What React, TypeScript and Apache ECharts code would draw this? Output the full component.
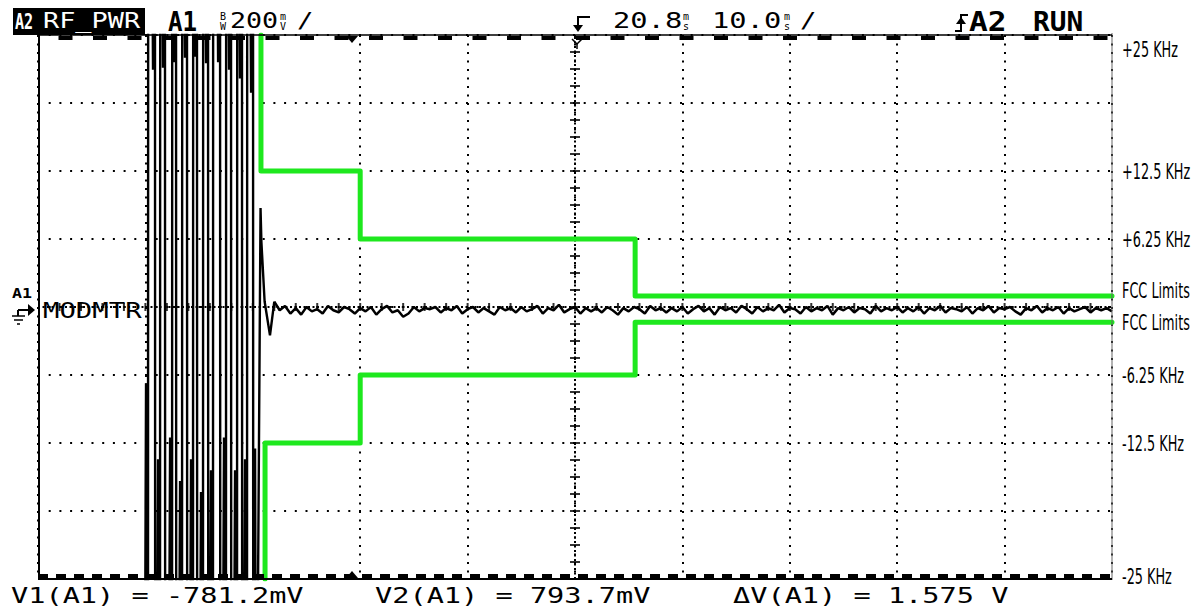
import React, { useEffect, useRef } from 'react';
import * as echarts from 'echarts';

// ---- axes ----
const timeMin = 0;
const timeMax = 100; // ms (10 ms/div)
const timeDiv = 10;
const freqMin = -25; // kHz
const freqMax = 25;
const freqDiv = 6.25;

const yTickValues = [25, 12.5, 6.25, -6.25, -12.5, -25];
const yTickTexts = ['+25 KHz', '+12.5 KHz', '+6.25 KHz', '-6.25 KHz', '-12.5 KHz', '-25 KHz'];

// ---- modulation trace ----
// clipped burst: time of each clipped extreme (ms) and the level (kHz) where its heavy bar ends
const peakT = [10.24, 10.89, 11.36, 11.82, 12.48, 12.85, 13.41, 13.87, 14.43, 14.8, 15.36, 15.83, 16.29, 16.95, 17.5, 17.97, 18.53, 18.99, 19.46, 20.02, 20.39];
const peakShoulder = [-7, 21.8, -14, 22.0, -12, 22.5, -16, 22.9, -14, 23.0, -17, 22.4, -15, 22.5, -12, 21.8, -15, 21.0, -14, 19.7, -13];
const clipLevel = 40; // beyond screen, kHz
// ringing as the transmitter settles
const ringT = [20.72, 20.8, 21.1, 21.6, 22.0];
const ringV = [9.1, 6.0, 0.5, -2.6, 0.5];
// residual noise
const noiseStartT = 22.5;
const noiseStepT = 0.5;
const noiseV = [
  -0.3, 0.1, -0.6, -0.1, -0.7, 0.0, -0.4, -0.2, -0.6, 0.1, -0.3, -0.5, 0.0, -0.2, -0.6,
  -0.1, -0.4, 0.0, -0.7, -0.2, 0.1, -0.5, -0.3, -0.9, -0.6, 0.0, -0.4, -0.1, -0.2, 0.0,
  -0.5, -0.1, -0.3, 0.1, -0.6, -0.2, 0.0, -0.5, -0.1, -0.4, -0.7, 0.0, -0.3, -0.1, -0.5,
  0.0, -0.4, -0.2, 0.1, -0.6, -0.1, -0.3, 0.2, -0.5, -0.2, 0.0, -0.6, -0.1, -0.4, -0.1,
  -0.5, 0.0, -0.3, -0.7, -0.1, -0.4, 0.0, -0.2, -0.6, 0.1, -0.3, -0.1, -0.5, -0.1, -0.4,
  0.0, -0.6, -0.2, 0.1, -0.4, -0.1, -0.7, 0.0, -0.3, -0.1, -0.5, 0.1, -0.2, -0.6, 0.0,
  -0.4, -0.1, -0.3, 0.2, -0.5, -0.1, -0.2, -0.6, 0.0, -0.4, -0.1, -0.3, 0.1, -0.7, -0.1,
  -0.3, 0.0, -0.5, -0.1, -0.2, -0.6, 0.1, -0.4, -0.1, -0.3, 0.0, -0.5, -0.1, -0.4, 0.0,
  -0.6, -0.1, -0.3, 0.1, -0.5, -0.1, -0.2, -0.4, 0.0, -0.6, -0.1, -0.3, 0.1, -0.5, -0.1,
  -0.2, 0.0, -0.4, -0.7, -0.1, -0.3, 0.1, -0.5, -0.1, -0.3, 0.0, -0.6, -0.1, -0.4, -0.2,
  0.0, -0.5, -0.1, -0.3, -0.1, -0.4,
];

// ---- FCC limit masks (ms, kHz) ----
const upperLimitT = [20.76, 20.76, 30, 30, 55.6, 55.6, 100];
const upperLimitV = [25, 12.5, 12.5, 6.25, 6.25, 1.0, 1.0];
const lowerLimitT = [21.14, 21.14, 30, 30, 55.6, 55.6, 100];
const lowerLimitV = [-25, -12.5, -12.5, -6.25, -6.25, -1.4, -1.4];
const limitLabel = 'FCC Limits';

// ---- scope texts ----
const channelBox = ['A2', 'RF_PWR'];
const headerScale = ['A1', '200', '/'];
const headerTime = ['20.8', '10.0', '/'];
const headerTrig = ['A2', 'RUN'];
const traceLabel = ['A1', 'MODMTR'];
const readouts = ['V1(A1) = -781.2mV', 'V2(A1) = 793.7mV', '\u0394V(A1) = 1.575 V'];

const SCOPE = '"DejaVu Sans Mono", "Liberation Mono", monospace';
const NARROW = '"DejaVu Sans Condensed", "DejaVu Sans", sans-serif';

const GL = 38, GT = 35, GW = 1074, GH = 544;
const GR = GL + GW, GB = GT + GH;

function txt(x: number, y: number, text: string, size: number, sx = 1, bold = false, fill = '#000') {
  return {
    type: 'text', x, y, scaleX: sx, z: 120,
    style: {
      text, fill,
      font: `${bold ? 'bold ' : ''}${size}px ${SCOPE}`,
      textAlign: 'left', textVerticalAlign: 'middle', align: 'left', verticalAlign: 'middle',
    },
  };
}
function narrowTxt(x: number, y: number, text: string) {
  return {
    type: 'text', x, y, scaleX: 0.68, z: 120,
    style: {
      text, fill: '#000', font: `21px ${NARROW}`,
      textAlign: 'left', textVerticalAlign: 'middle', align: 'left', verticalAlign: 'middle',
    },
  };
}
function ln(x1: number, y1: number, x2: number, y2: number, w: number, color = '#000', dash?: number[], dashOffset = 0) {
  return {
    type: 'line', z: 110, silent: true,
    shape: { x1, y1, x2, y2 },
    style: { stroke: color, lineWidth: w, lineDash: dash, lineDashOffset: dashOffset },
  };
}

export default function App() {
  const ref = useRef<HTMLDivElement>(null);
  useEffect(() => {
    if (!ref.current) return;
    const chart = echarts.init(ref.current, undefined, { renderer: 'svg' });

    // clipped burst: each extreme is a near-vertical stroke plus its heavy bar
    const burst: number[][] = [];
    peakT.forEach((t, i) => {
      const s = peakShoulder[i];
      const ext = s < 0 ? -clipLevel : clipLevel;
      burst.push([t - 0.3, ext], [t - 0.18, s], [t - 0.1, ext], [t, ext]);
      if (i < peakT.length - 1) burst.push([t + 0.02, -ext]);
    });
    ringT.forEach((t, i) => burst.push([t, ringV[i]]));
    const settled: number[][] = [burst[burst.length - 1]];
    noiseV.forEach((v, i) => settled.push([noiseStartT + i * noiseStepT, v]));
    const upper = upperLimitT.map((t, i) => [t, upperLimitV[i]]);
    const lower = lowerLimitT.map((t, i) => [t, lowerLimitV[i]]);

    // graticule minor ticks on the centre crosshair (4 per vertical div, 5 per horizontal div)
    const vTicks: number[][] = [];
    for (let k = 1; k < 32; k++) vTicks.push([(timeMin + timeMax) / 2, freqMin + k * (freqDiv / 4)]);
    const hTicks: number[][] = [];
    for (let k = 1; k < 50; k++) hTicks.push([timeMin + k * (timeDiv / 5), 0]);

    const graphic: any[] = [
      // frame
      ln(GL + 1, GT, GL + 1, GB, 2),
      ln(GR, GT - 2, GR, GB + 1, 1, '#666'),
      ln(GL, GT, GR, GT, 1.5),
      ln(GL, GT + 3, GR, GT + 3, 4, '#000', [14, 20.5], 14),
      ln(GL, GB, GR, GB, 2),
      ln(GL, GB - 3, GR, GB - 3, 4, '#000', [10, 8]),
      // cursor markers
      { type: 'polygon', z: 115, shape: { points: [[346, GT + 1], [358, GT + 1], [352, GT + 8]] }, style: { fill: '#000' } },
      { type: 'polygon', z: 115, shape: { points: [[346, GB - 1], [358, GB - 1], [352, GB - 8]] }, style: { fill: '#000' } },
      // trigger marker
      { type: 'polyline', z: 115, shape: { points: [[590, 17], [578, 17], [578, 28]] }, style: { stroke: '#000', lineWidth: 2, fill: 'none' } },
      { type: 'polygon', z: 115, shape: { points: [[573, 25], [583, 25], [578, 32]] }, style: { fill: '#000' } },
      { type: 'polyline', z: 115, shape: { points: [[572, 39], [577, 44], [582, 39]] }, style: { stroke: '#000', lineWidth: 1.5, fill: 'none' } },
      ln(577, 44, 577, 49, 1.5),
      // channel box
      { type: 'rect', z: 110, shape: { x: 13, y: 8, width: 132, height: 27 }, style: { fill: '#000' } },
      txt(15, 22, channelBox[0], 21, 0.72, true, '#fff'),
      txt(43, 21, channelBox[1], 21, 1.28, false, '#fff'),
      // scale
      txt(168, 22, headerScale[0], 26, 0.93, true),
      txt(220, 16, 'B', 10), txt(220, 26, 'W', 10),
      txt(230, 21, headerScale[1], 21, 1.27),
      txt(280, 16, 'm', 10), txt(280, 26, 'V', 10),
      txt(297, 21, headerScale[2], 21, 1.3),
      // timebase
      txt(613, 21, headerTime[0], 21, 1.37),
      txt(683, 16, 'm', 10), txt(683, 26, 's', 10),
      txt(712, 21, headerTime[1], 21, 1.37),
      txt(784, 16, 'm', 10), txt(784, 26, 's', 10),
      txt(800, 21, headerTime[2], 21, 1.3),
      // trigger source / run
      { type: 'polyline', z: 115, shape: { points: [[955, 31], [961, 31], [961, 15], [968, 15]] }, style: { stroke: '#000', lineWidth: 2, fill: 'none' } },
      { type: 'polygon', z: 115, shape: { points: [[956, 24], [966, 24], [961, 17]] }, style: { fill: '#000' } },
      txt(969, 22, headerTrig[0], 26, 1.2, true),
      txt(1033, 22, headerTrig[1], 26, 1.07, true),
      // trace label + ground symbol
      txt(12, 293, traceLabel[0], 14, 1.19, true),
      txt(43, 311, traceLabel[1], 21, 1.3),
      ln(18, 310, 30, 310, 2),
      { type: 'polygon', z: 115, shape: { points: [[28, 304], [35, 310], [28, 316]] }, style: { fill: '#000' } },
      ln(18, 310, 18, 316, 2),
      ln(12, 316, 25, 316, 1.5),
      ln(14, 320, 23, 320, 1.5),
      ln(17, 324, 20, 324, 1.5),
      // readouts
      txt(11, 595, readouts[0], 22, 1.3),
      txt(375, 595, readouts[1], 22, 1.3),
      txt(733, 595, readouts[2], 22, 1.3),
    ];

    chart.setOption({
      animation: false,
      backgroundColor: '#fff',
      grid: { left: GL, top: GT, width: GW, height: GH, containLabel: false },
      xAxis: {
        type: 'value', min: timeMin, max: timeMax, interval: timeDiv,
        axisLine: { show: false }, axisTick: { show: false }, axisLabel: { show: false },
        splitLine: { show: true, lineStyle: { color: '#000', width: 2, type: [2, 6.5] } },
      },
      yAxis: {
        type: 'value', min: freqMin, max: freqMax, interval: freqDiv, position: 'right',
        axisLine: { show: false }, axisTick: { show: false }, axisLabel: { show: false },
        splitLine: { show: true, lineStyle: { color: '#000', width: 2, type: [2, 8.7] } },
      },
      graphic,
      series: [
        {
          name: 'graticule-v', type: 'scatter', data: vTicks, symbol: 'rect', symbolSize: [10, 2],
          itemStyle: { color: '#000' }, silent: true, z: 1,
          markLine: {
            silent: true, symbol: ['none', 'none'], label: { show: false },
            lineStyle: { color: '#000', width: 2, type: [2, 2.5] },
            data: [{ xAxis: (timeMin + timeMax) / 2 }, { yAxis: 0 }],
          },
        },
        {
          name: 'graticule-h', type: 'scatter', data: hTicks, symbol: 'rect', symbolSize: [2, 8],
          itemStyle: { color: '#000' }, silent: true, z: 1,
        },
        {
          name: 'MODMTR burst', type: 'line', data: burst, showSymbol: false, clip: true,
          lineStyle: { color: '#000', width: 2.4 }, z: 3, silent: true,
        },
        {
          name: 'MODMTR settled', type: 'line', data: settled, showSymbol: false, clip: true,
          lineStyle: { color: '#000', width: 2.5 }, z: 3, silent: true,
        },
        {
          name: 'upper', type: 'line', data: upper, showSymbol: false, clip: true,
          lineStyle: { color: '#1ee81e', width: 5, join: 'round', cap: 'round' }, z: 5,
        },
        {
          name: 'lower', type: 'line', data: lower, showSymbol: false, clip: true,
          lineStyle: { color: '#1ee81e', width: 5, join: 'round', cap: 'round' }, z: 5,
        },
      ],
    });

    // right-hand scale labels, placed through the chart's own scale
    const labels: any[] = yTickValues.map((v, i) => {
      const p = chart.convertToPixel({ gridIndex: 0 }, [timeMax, v]) as number[];
      const dy = v === freqMax ? 14 : v === freqMin ? -3 : 0;
      return narrowTxt(p[0] + 10, p[1] + dy, yTickTexts[i]);
    });
    const up = chart.convertToPixel({ gridIndex: 0 }, upper[upper.length - 1]) as number[];
    const lo = chart.convertToPixel({ gridIndex: 0 }, lower[lower.length - 1]) as number[];
    labels.push(narrowTxt(up[0] + 10, up[1] - 6, limitLabel));
    labels.push(narrowTxt(lo[0] + 10, lo[1], limitLabel));
    chart.setOption({ graphic: [...graphic, ...labels] });

    return () => chart.dispose();
  }, []);
  return <div ref={ref} style={{ position: 'fixed', left: 0, top: 0, width: 1201, height: 609, background: '#fff' }} />;
}
